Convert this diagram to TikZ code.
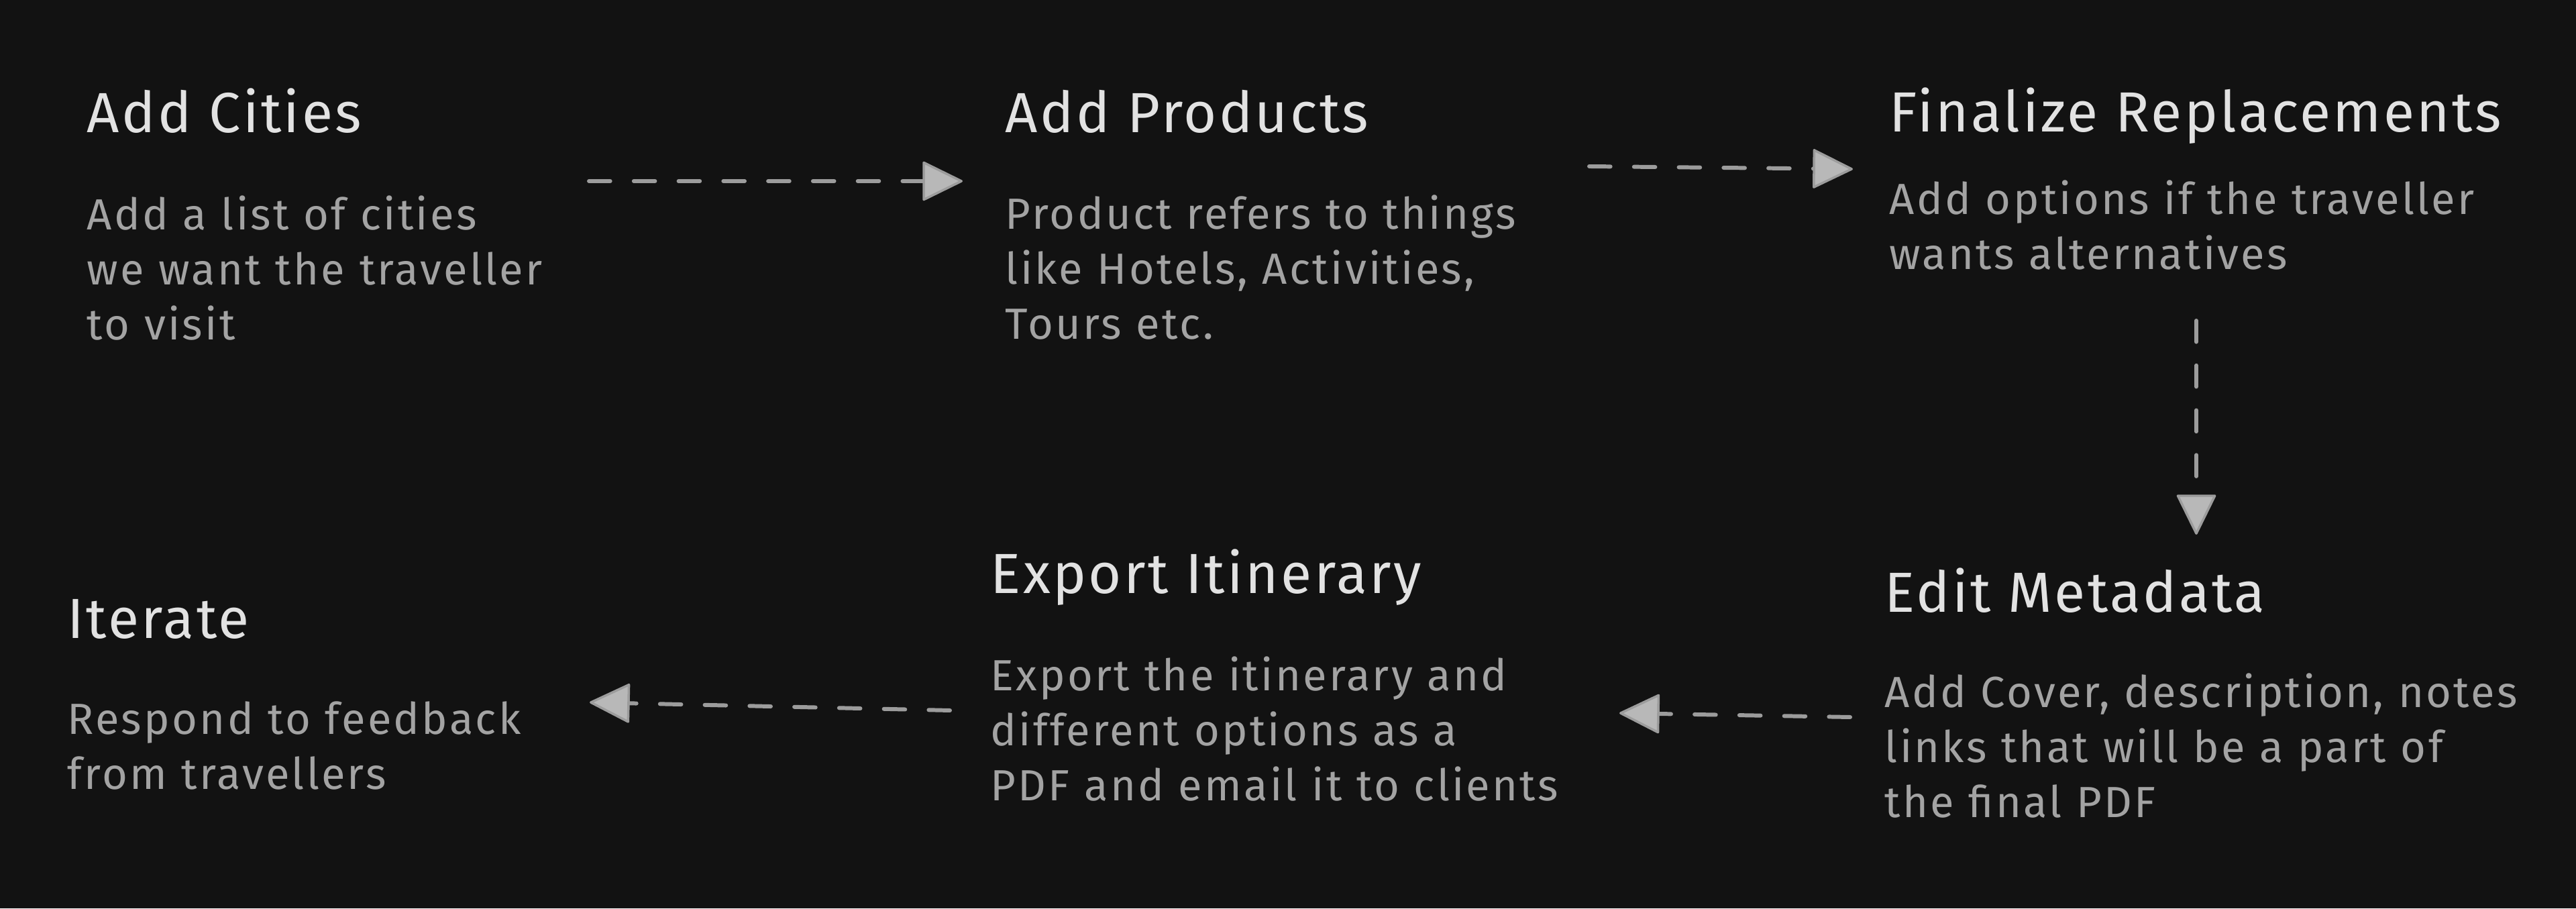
\documentclass[tikz,border=0pt]{standalone}
\usepackage{fontspec}
\setmainfont{Fira Sans}
\newfontfamily\titlefont[LetterSpace=4]{Fira Sans}
\newfontfamily\bodyfont[LetterSpace=5]{Fira Sans}
\usepackage{xcolor}
\usepackage{tikz}
\usetikzlibrary{arrows.meta}
\definecolor{bgDark}{HTML}{121212}
\definecolor{titleLight}{HTML}{E2E2E2}
\definecolor{bodyGray}{HTML}{A3A3A3}
\definecolor{arrowGray}{HTML}{9C9C9C}
\definecolor{tipGray}{HTML}{B8B8B8}

\begin{document}
\begin{tikzpicture}[x=1cm,y=1cm]

		\tikzset{
            stepTitle/.style={
                anchor=base west,
                inner sep=0pt,
                text=titleLight,
                font=\titlefont\fontsize{24}{29}\selectfont
            },
            stepBody/.style={
                anchor=base west,
                inner sep=0pt,
                align=left,
                text width=11cm,
                text=bodyGray,
                font=\bodyfont\fontsize{18.5}{23.3}\selectfont
            },
            flowArrow/.style={
                draw=arrowGray,
                line width=1.7pt,
                line cap=round,
                dash pattern=on 9pt off 10pt,
                -{Triangle[length=0.62cm,width=0.6cm,line width=1pt,fill=tipGray,round]}
            }
        }
        
        \newcommand{\StepBlock}[6]{
            \node[stepTitle] (#1Title) at (#2,#3) {#5};
            \node[stepBody] (#1Body) at (#2,#4) {#6};
        }
        
        \fill[bgDark] (0,0) rectangle (38.40,13.54);
        \useasboundingbox (0,0) rectangle (38.40,13.54);
        
        \StepBlock{cities}{1.29}{11.56}{10.11}{Add Cities}{Add a list of cities\\we want the traveller\\to visit}
        \StepBlock{products}{14.98}{11.56}{10.12}{Add Products}{Product refers to things\\like Hotels, Activities,\\Tours etc.}
        \StepBlock{replace}{28.16}{11.57}{10.34}{Finalize Replacements}{Add options if the traveller\\wants alternatives}
        \StepBlock{meta}{28.09}{4.41}{2.99}{Edit Metadata}{Add Cover, description, notes\\links that will be a part of\\the final PDF}
        \StepBlock{export}{14.76}{4.69}{3.24}{Export Itinerary}{Export the itinerary and\\different options as a\\PDF and email it to clients}
        \StepBlock{iterate}{1.00}{4.02}{2.59}{Iterate}{Respond to feedback\\from travellers}
        
        \coordinate (citiesOut) at (8.78,10.84);
        \coordinate (productsIn) at (14.35,10.84);
        \coordinate (productsOut) at (23.69,11.06);
        \coordinate (replaceIn) at (27.62,11.02);
        \coordinate (replaceOut) at (32.74,8.76);
        \coordinate (metaIn) at (32.74,5.57);
        \coordinate (metaOut) at (27.58,2.85);
        \coordinate (exportIn) at (24.14,2.91);
        \coordinate (exportOut) at (14.16,2.95);
        \coordinate (iterateIn) at (8.79,3.07);
        
        \draw[flowArrow] (citiesOut) -- (productsIn);
        \draw[flowArrow] (productsOut) -- (replaceIn);
        \draw[flowArrow] (replaceOut) -- (metaIn);
        \draw[flowArrow] (metaOut) -- (exportIn);
        \draw[flowArrow] (exportOut) -- (iterateIn);
        
\end{tikzpicture}
\end{document}
